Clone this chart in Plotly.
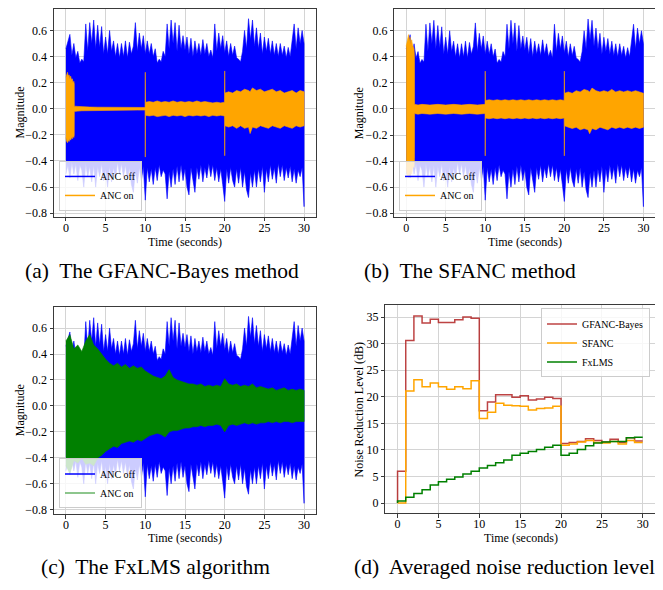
import numpy as np
import plotly.graph_objects as go

FONT = "Liberation Serif"

# ---------------- data ----------------
# time grid for the envelope of the noise signal (ANC off), seconds
t_env = [round(v, 2) for v in np.arange(0, 30.001, 0.25)]

blue_upper = [
    0.46, 0.52, 0.57, 0.41, 0.50, 0.39, 0.44, 0.35, 0.38, 0.36, 0.65, 0.44,
    0.66, 0.50, 0.68, 0.46, 0.64, 0.47, 0.63, 0.42, 0.55, 0.42, 0.60, 0.44,
    0.52, 0.40, 0.50, 0.39, 0.50, 0.40, 0.52, 0.39, 0.51, 0.42, 0.48, 0.66,
    0.44, 0.58, 0.46, 0.56, 0.42, 0.52, 0.42, 0.50, 0.40, 0.46, 0.35, 0.38,
    0.36, 0.44, 0.40, 0.65, 0.46, 0.68, 0.50, 0.66, 0.44, 0.64, 0.46, 0.56,
    0.45, 0.55, 0.42, 0.54, 0.40, 0.52, 0.42, 0.50, 0.41, 0.53, 0.42, 0.50,
    0.40, 0.45, 0.39, 0.65, 0.44, 0.58, 0.46, 0.56, 0.43, 0.52, 0.40, 0.50,
    0.41, 0.48, 0.39, 0.38, 0.36, 0.44, 0.60, 0.46, 0.69, 0.53, 0.68, 0.48,
    0.62, 0.46, 0.58, 0.42, 0.55, 0.44, 0.54, 0.42, 0.52, 0.41, 0.50, 0.40,
    0.50, 0.41, 0.48, 0.39, 0.47, 0.40, 0.52, 0.65, 0.46, 0.62, 0.50, 0.60,
    0.50]
blue_lower = [
    -0.50, -0.43, -0.53, -0.41, -0.50, -0.42, -0.55, -0.43, -0.47, -0.60, -0.42, -0.52,
    -0.44, -0.56, -0.43, -0.60, -0.44, -0.52, -0.42, -0.55, -0.46, -0.60, -0.44, -0.56,
    -0.45, -0.53, -0.41, -0.50, -0.42, -0.52, -0.43, -0.54, -0.45, -0.58, -0.64, -0.47,
    -0.57, -0.45, -0.55, -0.44, -0.70, -0.45, -0.56, -0.46, -0.58, -0.45, -0.55, -0.43,
    -0.52, -0.47, -0.50, -0.69, -0.48, -0.60, -0.46, -0.58, -0.44, -0.56, -0.43, -0.55,
    -0.46, -0.60, -0.66, -0.45, -0.55, -0.64, -0.45, -0.54, -0.43, -0.56, -0.45, -0.53,
    -0.42, -0.52, -0.43, -0.55, -0.45, -0.56, -0.46, -0.58, -0.71, -0.46, -0.57, -0.45,
    -0.55, -0.60, -0.46, -0.57, -0.45, -0.60, -0.48, -0.62, -0.68, -0.49, -0.60, -0.47,
    -0.60, -0.46, -0.56, -0.44, -0.64, -0.46, -0.56, -0.43, -0.54, -0.45, -0.57, -0.42,
    -0.52, -0.43, -0.55, -0.45, -0.53, -0.44, -0.56, -0.46, -0.57, -0.47, -0.52, -0.45,
    -0.75]

# time breakpoints of the ANC-on envelopes (panels a and b)
t_on = [0.0, 0.1, 0.2, 0.3, 0.4, 0.5, 0.6, 0.7, 0.8, 0.9, 1.0, 1.05,
        1.06, 1.5, 2, 3, 4, 5, 6, 7, 8, 9, 9.97,
        10.0, 10.03, 10.5, 11, 11.5, 12, 12.5, 13, 13.5, 14, 14.5, 15, 15.5,
        16, 16.5, 17, 17.5, 18, 18.5, 19, 19.5, 19.97,
        20.0, 20.03, 20.5, 21, 21.5, 22, 22.5, 23, 23.2, 23.5, 24, 24.5, 25,
        25.5, 26, 26.5, 27, 27.5, 28, 28.5, 29, 29.5, 30]

gfanc_upper = [0.24, 0.27, 0.28, 0.25, 0.26, 0.23, 0.25, 0.22, 0.23, 0.20, 0.21, 0.19,
               0.02, 0.018, 0.015, 0.013, 0.012, 0.011, 0.011, 0.010, 0.010, 0.010, 0.010,
               0.28, 0.05, 0.055, 0.05, 0.06, 0.05, 0.055, 0.05, 0.06, 0.05, 0.055, 0.05, 0.055,
               0.05, 0.06, 0.05, 0.055, 0.05, 0.045, 0.05, 0.045, 0.05,
               0.29, 0.12, 0.13, 0.12, 0.14, 0.13, 0.15, 0.14, 0.13, 0.16, 0.14, 0.15, 0.13,
               0.14, 0.15, 0.13, 0.14, 0.12, 0.13, 0.14, 0.12, 0.14, 0.13]
gfanc_lower = [-0.22, -0.25, -0.26, -0.24, -0.25, -0.23, -0.24, -0.22, -0.23, -0.21, -0.22, -0.20,
               -0.02, -0.018, -0.015, -0.013, -0.012, -0.011, -0.011, -0.010, -0.010, -0.010, -0.010,
               -0.37, -0.05, -0.055, -0.05, -0.06, -0.055, -0.05, -0.06, -0.05, -0.055, -0.05, -0.06, -0.05,
               -0.055, -0.05, -0.055, -0.05, -0.06, -0.05, -0.055, -0.05, -0.055,
               -0.36, -0.13, -0.14, -0.13, -0.15, -0.13, -0.15, -0.14, -0.19, -0.14, -0.15, -0.13, -0.14,
               -0.15, -0.13, -0.14, -0.15, -0.13, -0.14, -0.15, -0.13, -0.14, -0.13]

sfanc_upper = [0.48, 0.52, 0.55, 0.57, 0.52, 0.55, 0.50, 0.53, 0.49, 0.47, 0.46, 0.40,
               0.035, 0.03, 0.035, 0.03, 0.035, 0.03, 0.035, 0.03, 0.035, 0.03, 0.035,
               0.29, 0.065, 0.07, 0.065, 0.07, 0.065, 0.07, 0.065, 0.07, 0.065, 0.07, 0.065, 0.07,
               0.065, 0.07, 0.065, 0.07, 0.065, 0.07, 0.065, 0.07, 0.065,
               0.29, 0.12, 0.13, 0.12, 0.14, 0.13, 0.15, 0.14, 0.13, 0.16, 0.14, 0.13, 0.14,
               0.13, 0.15, 0.13, 0.14, 0.13, 0.14, 0.13, 0.14, 0.13, 0.12]
sfanc_lower = [-0.45, -0.50, -0.52, -0.53, -0.48, -0.52, -0.47, -0.50, -0.46, -0.44, -0.45, -0.38,
               -0.035, -0.04, -0.035, -0.04, -0.035, -0.04, -0.035, -0.04, -0.035, -0.04, -0.035,
               -0.36, -0.07, -0.075, -0.07, -0.075, -0.07, -0.075, -0.07, -0.075, -0.07, -0.075, -0.07, -0.075,
               -0.07, -0.075, -0.07, -0.075, -0.07, -0.075, -0.07, -0.075, -0.07,
               -0.36, -0.13, -0.14, -0.15, -0.14, -0.16, -0.15, -0.16, -0.19, -0.15, -0.16, -0.14, -0.15,
               -0.16, -0.14, -0.15, -0.14, -0.15, -0.14, -0.15, -0.14, -0.15, -0.14]

# FxLMS ANC-on envelope (panel c), every 0.5 s
t_fx = [round(v, 1) for v in np.arange(0, 30.001, 0.5)]
fx_upper = [0.50, 0.55, 0.44, 0.47, 0.42, 0.50, 0.55, 0.47, 0.44, 0.40, 0.36, 0.33,
            0.31, 0.33, 0.30, 0.32, 0.29, 0.31, 0.29, 0.30, 0.27, 0.25, 0.23, 0.22,
            0.21, 0.23, 0.28, 0.22, 0.20, 0.19, 0.18, 0.17, 0.17, 0.16, 0.17, 0.15,
            0.16, 0.15, 0.16, 0.15, 0.21, 0.17, 0.16, 0.17, 0.15, 0.16, 0.15, 0.17,
            0.14, 0.15, 0.14, 0.13, 0.14, 0.12, 0.13, 0.14, 0.12, 0.13, 0.12, 0.13, 0.12]
fx_lower = [-0.46, -0.52, -0.42, -0.44, -0.40, -0.45, -0.44, -0.46, -0.40, -0.38, -0.35, -0.33,
            -0.31, -0.32, -0.29, -0.28, -0.27, -0.28, -0.26, -0.27, -0.25, -0.23, -0.22, -0.21,
            -0.22, -0.24, -0.20, -0.19, -0.19, -0.18, -0.17, -0.17, -0.16, -0.16, -0.15, -0.16,
            -0.15, -0.15, -0.14, -0.15, -0.20, -0.15, -0.14, -0.15, -0.14, -0.13, -0.14, -0.13,
            -0.14, -0.13, -0.13, -0.12, -0.13, -0.12, -0.13, -0.12, -0.12, -0.13, -0.12, -0.12, -0.12]

# averaged noise reduction level (panel d), one value per second (steps)
t_sec = list(range(0, 31))
nr_gfanc = [0, 6.0, 30.6, 35.2, 33.9, 34.6, 34.0, 34.0, 34.5, 35.0, 34.8,
            17.4, 19.0, 20.4, 20.4, 19.9, 20.2, 19.4, 19.6, 19.9, 19.7,
            11.2, 11.4, 11.6, 12.1, 11.8, 11.5, 12.0, 11.4, 12.3, 11.7]
nr_sfanc = [0, 0.0, 21.1, 23.2, 21.9, 22.6, 21.9, 21.4, 21.9, 21.5, 23.0,
            15.9, 17.1, 18.8, 18.4, 18.3, 18.2, 17.5, 17.8, 17.9, 18.2,
            10.9, 11.1, 11.5, 11.8, 11.4, 11.3, 11.6, 11.1, 11.8, 11.4]
nr_fxlms = [0, 0.4, 1.1, 1.8, 2.5, 3.4, 4.0, 4.5, 4.9, 5.5, 6.0,
            6.6, 7.1, 7.6, 8.1, 9.0, 9.4, 9.7, 10.1, 10.5, 10.9,
            9.0, 9.4, 10.1, 10.8, 11.3, 11.5, 11.6, 11.6, 12.3, 12.4]

captions = ["(a)\u00a0 The GFANC-Bayes method", "(b)\u00a0 The SFANC method",
            "(c)\u00a0 The FxLMS algorithm", "(d)\u00a0 Averaged noise reduction level"]

sig_ticks = [-0.8, -0.6, -0.4, -0.2, 0.0, 0.2, 0.4, 0.6]
sig_ticktext = [("\u2212" if v < 0 else "") + f"{abs(v):.1f}" for v in sig_ticks]
time_ticks = [0, 5, 10, 15, 20, 25, 30]
nr_ticks = [0, 5, 10, 15, 20, 25, 30, 35]

# ---------------- figure ----------------
# the page body has an 8px margin, so the figure is 8px smaller than the window
OFF = 8
W, H = 663 - OFF, 590 - OFF
BLUE, ORANGE, GREEN, RED = "#0000ff", "#ffa500", "#008000", "rgba(178,34,34,0.85)"

fig = go.Figure()


def band(t, up, lo, color, xa, ya, width=0.6):
    fig.add_trace(go.Scatter(
        x=list(t) + list(t)[::-1], y=list(up) + list(lo)[::-1],
        fill="toself", fillcolor=color, mode="lines",
        line=dict(color=color, width=width),
        hoverinfo="skip", showlegend=False, xaxis=xa, yaxis=ya))


def legline(name, color, xa, ya, leg):
    fig.add_trace(go.Scatter(
        x=[None], y=[None], mode="lines", name=name,
        line=dict(color=color, width=1.5), xaxis=xa, yaxis=ya, legend=leg))


# panel a
band(t_env, blue_upper, blue_lower, BLUE, "x", "y")
band(t_on, gfanc_upper, gfanc_lower, ORANGE, "x", "y")
legline("ANC off", BLUE, "x", "y", "legend")
legline("ANC on", ORANGE, "x", "y", "legend")
# panel b
band(t_env, blue_upper, blue_lower, BLUE, "x2", "y2")
band(t_on, sfanc_upper, sfanc_lower, ORANGE, "x2", "y2")
legline("ANC off", BLUE, "x2", "y2", "legend2")
legline("ANC on", ORANGE, "x2", "y2", "legend2")
# panel c
band(t_env, blue_upper, blue_lower, BLUE, "x3", "y3")
band(t_fx, fx_upper, fx_lower, GREEN, "x3", "y3")
legline("ANC off", BLUE, "x3", "y3", "legend3")
legline("ANC on", "rgba(0,128,0,0.6)", "x3", "y3", "legend3")
# panel d
for name, vals, col in [("GFANC-Bayes", nr_gfanc, RED),
                        ("SFANC", nr_sfanc, ORANGE),
                        ("FxLMS", nr_fxlms, GREEN)]:
    fig.add_trace(go.Scatter(x=t_sec, y=vals, mode="lines", name=name,
                             line=dict(color=col, width=1.5, shape="vh"),
                             xaxis="x4", yaxis="y4", legend="legend4"))


def px_x(v):
    return (v - OFF) / W


def px_y(v):
    return 1 - (v - OFF) / H


tick_font = dict(family=FONT, size=12, color="black")
common = dict(showgrid=True, gridcolor="#d4d4d4", gridwidth=1, showline=True,
              mirror=True, linecolor="#3a3a3a", linewidth=1, ticks="outside",
              ticklen=3.5, tickwidth=1, tickcolor="#3a3a3a", tickfont=tick_font,
              zeroline=False)

dom = {
    1: ([54, 316], [9, 218]),
    2: ([394.3, 655.3], [9.3, 218]),
    3: ([54, 316], [309, 516.7]),
    4: ([385.3, 655], [306.7, 516]),
}
yr = {1: [-0.8285, 0.7645], 2: [-0.8285, 0.7645], 3: [-0.833, 0.759], 4: [-1.93, 37.24]}
layout = {}
for i in range(1, 5):
    (x0, x1), (y0, y1) = dom[i]
    sx = "" if i == 1 else str(i)
    layout["xaxis" + sx] = dict(common, domain=[px_x(x0), px_x(x1)], range=[-1.5, 31.5],
                                tickvals=time_ticks, anchor="y" + sx, ticklabelstandoff=-4)
    ydict = dict(common, domain=[px_y(y1), px_y(y0)], range=yr[i], anchor="x" + sx)
    if i < 4:
        ydict.update(tickvals=sig_ticks, ticktext=sig_ticktext)
    else:
        ydict.update(tickvals=nr_ticks)
    layout["yaxis" + sx] = ydict

leg_common = dict(bgcolor="rgba(255,255,255,0.8)", bordercolor="#cccccc", borderwidth=1,
                  font=dict(family=FONT, size=10, color="black"), tracegroupgap=0)
layout["legend"] = dict(leg_common, x=px_x(59), y=px_y(212), xanchor="left", yanchor="bottom")
layout["legend2"] = dict(leg_common, x=px_x(399), y=px_y(212), xanchor="left", yanchor="bottom")
layout["legend3"] = dict(leg_common, x=px_x(59), y=px_y(511), xanchor="left", yanchor="bottom")
layout["legend4"] = dict(leg_common, x=px_x(650), y=px_y(310), xanchor="right", yanchor="top")

ann = []


def text(s, x, y, size, angle=0, xanchor="center"):
    ann.append(dict(text=s, x=px_x(x), y=px_y(y), xref="paper", yref="paper",
                    showarrow=False, textangle=angle, xanchor=xanchor, yanchor="middle",
                    font=dict(family=FONT, size=size, color="black")))


text("Magnitude", 19.5, 113.5, 12, -90)
text("Time (seconds)", 185, 243.5, 12)
text("Magnitude", 359.3, 113.5, 12, -90)
text("Time (seconds)", 525, 243.5, 12)
text("Magnitude", 19.5, 412.8, 12, -90)
text("Time (seconds)", 185, 541, 12)
text("Noise Reduction Level (dB)", 359.3, 411.3, 12, -90)
text("Time (seconds)", 521, 541, 12)
text(captions[0], 162, 272, 21.5)
text(captions[1], 469.5, 272, 21.5)
text(captions[2], 155, 570, 21.5)
text(captions[3], 657, 570, 21.5, xanchor="right")

fig.update_layout(width=W, height=H, margin=dict(l=0, r=0, t=0, b=0),
                  paper_bgcolor="white", plot_bgcolor="white",
                  font=dict(family=FONT, size=12, color="black"),
                  annotations=ann, **layout)

fig.write_html("out.html", config={"displayModeBar": False})
